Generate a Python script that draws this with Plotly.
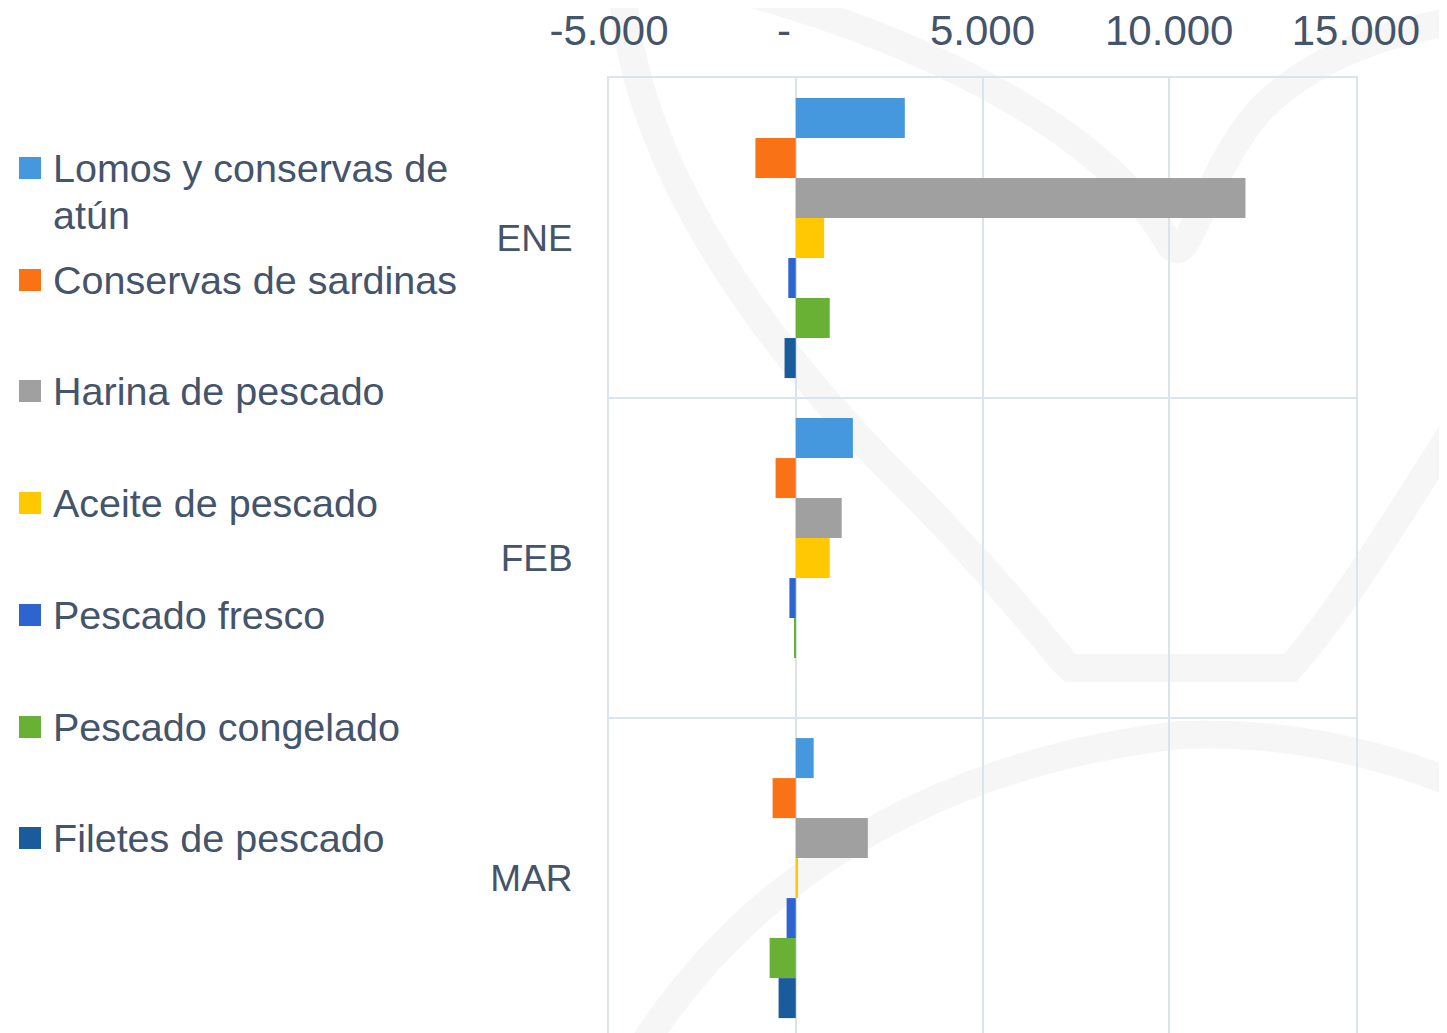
import plotly.graph_objects as go

# ---------------- data ----------------
months = ["ENE", "FEB", "MAR"]
series_names = [
    "Lomos y conservas de atún",
    "Conservas de sardinas",
    "Harina de pescado",
    "Aceite de pescado",
    "Pescado fresco",
    "Pescado congelado",
    "Filetes de pescado",
]
lomos_atun = [2920, 1530, 480]
sardinas = [-1080, -540, -620]
harina = [12040, 1230, 1930]
aceite = [760, 910, 60]
fresco = [-200, -170, -245]
congelado = [910, -25, -700]
filetes = [-300, 0, -460]

values = [lomos_atun, sardinas, harina, aceite, fresco, congelado, filetes]
colors = ["#4598DE", "#F97316", "#A0A0A0", "#FFC800", "#2E64D0", "#68B134", "#1A5B9C"]
legend_lines = [
    ["Lomos y conservas de", "atún"],
    ["Conservas de sardinas"],
    ["Harina de pescado"],
    ["Aceite de pescado"],
    ["Pescado fresco"],
    ["Pescado congelado"],
    ["Filetes de pescado"],
]
x_tickvals = [-5000, 0, 5000, 10000, 15000]
x_ticktext = ["-5.000", "-\u00a0\u00a0", "5.000", "10.000", "15.000"]

TEXT = "#44546A"
GRID = "#DDE3EA"
FONT = "Liberation Sans, Arial, sans-serif"

# page body has an 8px margin; figure is sized to fit the window
OFF = 8
PAGE_W, PAGE_H = 1447, 1033
W, H = PAGE_W - OFF, PAGE_H - OFF
PL, PR, PT, PB = 609, 1356, 78, 1033  # plot area in page pixels
L, R, T, B = PL - OFF, W - (PR - OFF), PT - OFF, H - (PB - OFF)
PW, PH = W - L - R, H - T - B


def px(x):
    return (x - PL) / PW


def py(y):
    return (PB - y) / PH


fig = go.Figure()
for name, vals, col in zip(series_names, values, colors):
    fig.add_trace(go.Bar(
        y=months, x=vals, name=name, orientation="h",
        marker=dict(color=col, line=dict(width=0)),
        showlegend=False,
    ))


# faint background watermark (decoration)
def path(points):
    s = "M %f,%f" % (px(points[0][0]), py(points[0][1]))
    rest = points[1:]
    i = 0
    while i + 3 <= len(rest):
        a, b, c = rest[i], rest[i + 1], rest[i + 2]
        s += " C %f,%f %f,%f %f,%f" % (px(a[0]), py(a[1]), px(b[0]), py(b[1]), px(c[0]), py(c[1]))
        i += 3
    while i < len(rest):
        s += " L %f,%f" % (px(rest[i][0]), py(rest[i][1]))
        i += 1
    return s


wm = "rgba(0,0,0,0.035)"
wm_paths = [
    [(622, -20), (630, 160), (760, 340), (900, 480), (1010, 590), (1060, 660), (1070, 668),
     (1160, 668), (1240, 668), (1290, 668), (1350, 600), (1420, 480), (1460, 420)],
    [(700, -20), (900, 30), (1100, 120), (1170, 245), (1190, 270), (1200, 180), (1260, 110),
     (1320, 50), (1400, 30), (1460, 20)],
    [(640, 1050), (760, 860), (960, 760), (1180, 735), (1300, 730), (1400, 760), (1470, 790)],
]
for p in wm_paths:
    fig.add_shape(type="path", xref="paper", yref="paper", path=path(p),
                  line=dict(color=wm, width=28), layer="below")

# manual legend
legend_y = [168, 280, 391, 503, 615, 727, 838]
for lines, col, yc in zip(legend_lines, colors, legend_y):
    fig.add_shape(type="rect", xref="paper", yref="paper",
                  x0=px(19), x1=px(41), y0=py(yc - 11), y1=py(yc + 11),
                  fillcolor=col, line=dict(width=0))
    for k, line in enumerate(lines):
        fig.add_annotation(xref="paper", yref="paper", x=px(51), y=py(yc + 47 * k),
                           text=line, showarrow=False, xanchor="left", yanchor="middle",
                           font=dict(family=FONT, size=39.5, color=TEXT))

fig.update_layout(
    width=W, height=H,
    margin=dict(l=L, r=R, t=T, b=B, pad=0, autoexpand=False),
    paper_bgcolor="white", plot_bgcolor="rgba(0,0,0,0)",
    barmode="group", bargap=0.125, bargroupgap=0,
    font=dict(family=FONT, color=TEXT),
    xaxis=dict(
        side="top", range=[-5000, 15000], automargin=False,
        tickvals=x_tickvals, ticktext=x_ticktext,
        tickfont=dict(size=42, color=TEXT),
        showgrid=True, gridcolor=GRID, gridwidth=2,
        zeroline=True, zerolinecolor=GRID, zerolinewidth=2,
        ticks="", ticklabelstandoff=14,
        showline=True, linecolor=GRID, linewidth=2, mirror=False,
    ),
    yaxis=dict(
        type="category", categoryorder="array", categoryarray=months,
        range=[2.484, -0.5], automargin=False,
        tickson="boundaries", showgrid=True, gridcolor=GRID, gridwidth=2,
        tickfont=dict(size=37, color=TEXT),
        ticks="", ticklabelstandoff=27,
        showline=True, linecolor=GRID, linewidth=2, mirror=True,
    ),
)

fig.write_html("out.html")
